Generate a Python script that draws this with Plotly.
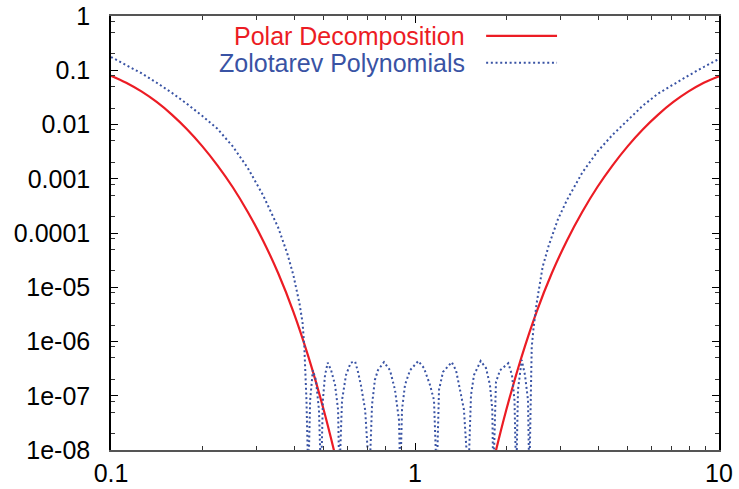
import plotly.graph_objects as go

# ---- data ----
polar_x = [0.1, 0.1122, 0.1259, 0.1413, 0.1585, 0.1778, 0.1995, 0.2239, 0.2512, 0.2818,
           0.3162, 0.3548, 0.3981, 0.4467, 0.5012, 0.5623, 0.6310, None,
           1.585, 1.778, 1.995, 2.239, 2.512, 2.818, 3.162, 3.548, 3.981, 4.467, 5.012,
           5.623, 6.310, 7.079, 7.943, 8.913, 10.0]
polar_y = [0.0794, 0.0589, 0.0407, 0.0260, 0.01522, 0.00818, 0.00400, 0.00177, 7.04e-4,
           2.44e-4, 7.29e-5, 1.81e-5, 3.53e-6, 5.10e-7, 5.40e-8, 4.05e-9, 2.3e-10, None,
           2.3e-10, 4.05e-9, 5.40e-8, 5.10e-7, 3.53e-6, 1.81e-5, 7.29e-5, 2.44e-4, 7.04e-4,
           1.77e-3, 4.00e-3, 8.18e-3, 0.01522, 0.0260, 0.0407, 0.0589, 0.0776]

zolo_x = [0.1, 0.1122, 0.1259, 0.1413, 0.1585, 0.1778, 0.1995, 0.2239, 0.2512, 0.2818,
          0.3162, 0.3548, 0.3802, 0.3981, 0.4169, 0.4266, 0.4325, 0.4395, 0.4457,
          0.4519, 0.4613, 0.4721, 0.4831, 0.4909,
          0.4977, 0.5058, 0.5164, 0.5297, 0.5458, 0.5585, 0.5636,
          0.5754, 0.5929, 0.6144, 0.6353, 0.6494, 0.6637, 0.6855, 0.7079,
          0.7222, 0.7379, 0.7551, 0.7907, 0.8275, 0.8593, 0.8859, 0.8946,
          0.9062, 0.9270, 0.9629, 1.0254, 1.0705, 1.1202, 1.1548, 1.1788,
          1.1994, 1.2364, 1.3204, 1.3643, 1.4060, 1.4488, 1.4972,
          1.5282, 1.5631, 1.6446, 1.7122, 1.7646, 1.7957, 1.8094,
          1.8465, 1.9036, 2.0276, 2.0845, 2.1247, 2.1523,
          2.1818, 2.2439, 2.3004, 2.3534, 2.3768,
          2.4077, 2.4210, 2.4547, 2.5119, 2.6303, 2.7542, 2.9512, 3.1623, 3.5481, 3.9811,
          4.4668, 5.0119, 5.6234, 6.3096, 7.0795, 7.9433, 8.9125, 10.0]
zolo_y = [0.1754, 0.1259, 0.0881, 0.0589, 0.0385, 0.0240, 0.01445, 0.00832, 0.00398, 0.00158,
          5.01e-4, 1.26e-4, 4.17e-5, 1.66e-5, 5.01e-6, 2.24e-6, 7.94e-7, 8.3e-8, 3e-9,
          8.3e-8, 2.95e-7, 1.95e-7, 5.5e-8, 3e-9,
          8.3e-8, 2.4e-7, 4.07e-7, 2.95e-7, 1.58e-7, 5.5e-8, 3e-9,
          8.3e-8, 2.4e-7, 4.07e-7, 4.27e-7, 2.75e-7, 1.58e-7, 5.5e-8, 3e-9,
          6.8e-8, 1.95e-7, 2.95e-7, 4.17e-7, 2.95e-7, 1.29e-7, 3.55e-8, 3e-9,
          5.5e-8, 1.58e-7, 2.95e-7, 4.37e-7, 3.24e-7, 1.58e-7, 8.3e-8, 3e-9,
          1.29e-7, 2.75e-7, 4.17e-7, 2.95e-7, 1.29e-7, 5.5e-8, 3e-9,
          1.02e-7, 2.4e-7, 4.37e-7, 3.24e-7, 1.58e-7, 5.5e-8, 3e-9,
          1.78e-7, 2.95e-7, 3.98e-7, 2.4e-7, 8.3e-8, 3e-9,
          1.29e-7, 4.57e-7, 2.4e-7, 8.3e-8, 3e-9,
          8.3e-8, 7.94e-7, 1.78e-6, 5.01e-6, 2.40e-5, 5.89e-5, 1.78e-4, 4.07e-4, 1.29e-3, 3.16e-3,
          6.46e-3, 0.0123, 0.0224, 0.0372, 0.0550, 0.0802, 0.1148, 0.162]

y_tickvals = [1, 0.1, 0.01, 0.001, 0.0001, 1e-5, 1e-6, 1e-7, 1e-8]
y_ticktext = ["1", "0.1", "0.01", "0.001", "0.0001", "1e-05", "1e-06", "1e-07", "1e-08"]
x_tickvals = [0.1, 1, 10]
x_ticktext = ["0.1", "1", "10"]

RED = "#ec1c24"
BLUE = "#3953a4"
FONT = "Liberation Sans, Arial, Helvetica, sans-serif"

y_minor = []
for k in range(-8, 0):
    for m in (2, 5, 8):
        y_minor.append(m * 10.0 ** k)
x_minor = []
for k in (-1, 0):
    for m in range(2, 10):
        x_minor.append(m * 10.0 ** k)

fig = go.Figure()
fig.add_trace(go.Scatter(x=polar_x, y=polar_y, mode="lines", name="Polar Decomposition",
                         line=dict(color=RED, width=2.2, shape="spline", smoothing=1.0),
                         connectgaps=False))
fig.add_trace(go.Scatter(x=zolo_x, y=zolo_y, mode="lines", name="Zolotarev Polynomials",
                         line=dict(color=BLUE, width=2, dash="2px,2.7px")))

fig.update_layout(
    width=739, height=489,
    margin=dict(l=111, r=20, t=16, b=39, autoexpand=False),
    paper_bgcolor="white", plot_bgcolor="white",
    showlegend=False,
    font=dict(family=FONT, size=25, color="black"),
)
fig.update_xaxes(type="log", range=[-1, 1], showgrid=False, zeroline=False, automargin=False,
                 showline=True, linecolor="#555555", linewidth=2, mirror="ticks",
                 ticks="inside", ticklen=7, tickwidth=1.2, tickcolor="black",
                 tickmode="array", tickvals=x_tickvals, ticktext=x_ticktext,
                 minor=dict(tickmode="array", tickvals=x_minor, ticks="inside",
                            ticklen=4, tickwidth=1, tickcolor="#333333"),
                 tickfont=dict(family=FONT, size=25, color="black"))
fig.update_yaxes(type="log", range=[-8, 0], showgrid=False, zeroline=False, automargin=False,
                 showline=True, linecolor="black", linewidth=1.5, mirror="ticks",
                 ticks="inside", ticklen=7, tickwidth=1.2, tickcolor="black",
                 ticklabelstandoff=14,
                 tickmode="array", tickvals=y_tickvals, ticktext=y_ticktext,
                 minor=dict(tickmode="array", tickvals=y_minor, ticks="inside",
                            ticklen=4, tickwidth=1, tickcolor="#333333"),
                 tickfont=dict(family=FONT, size=25, color="black"))

# legend drawn gnuplot-style: text on the left, line sample on the right
fig.add_annotation(x=0.5855, y=0.954, xref="paper", yref="paper", xanchor="right",
                   yanchor="middle", text="Polar Decomposition", showarrow=False,
                   font=dict(family=FONT, size=25, color=RED))
fig.add_annotation(x=0.5855, y=0.892, xref="paper", yref="paper", xanchor="right",
                   yanchor="middle", text="Zolotarev Polynomials", showarrow=False,
                   font=dict(family=FONT, size=25, color=BLUE))
fig.add_shape(type="line", xref="paper", yref="paper", x0=0.617, x1=0.7336, y0=0.954, y1=0.954,
              line=dict(color=RED, width=2.2))
fig.add_shape(type="line", xref="paper", yref="paper", x0=0.617, x1=0.7336, y0=0.892, y1=0.892,
              line=dict(color=BLUE, width=2, dash="2px,2.7px"))

fig.write_html("out.html")
